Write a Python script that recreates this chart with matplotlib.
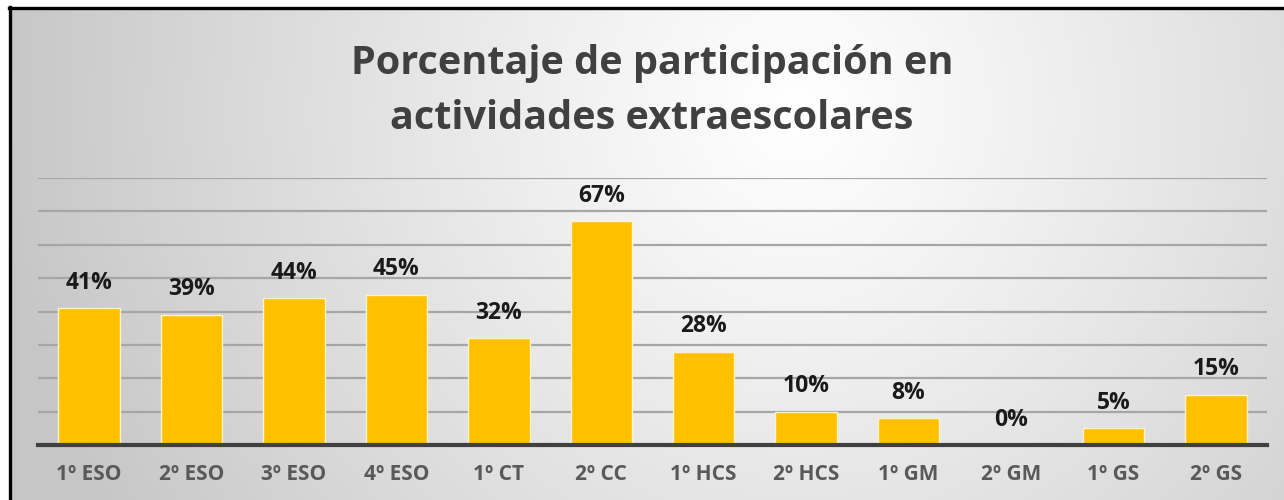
import numpy as np
import matplotlib
matplotlib.use("Agg")
import matplotlib.pyplot as plt
from matplotlib.lines import Line2D
from matplotlib.ticker import MultipleLocator

categories = ["1º ESO", "2º ESO", "3º ESO", "4º ESO", "1º CT", "2º CC",
              "1º HCS", "2º HCS", "1º GM", "2º GM", "1º GS", "2º GS"]
values = [0.41, 0.39, 0.44, 0.45, 0.32, 0.67, 0.28, 0.10, 0.08, 0.0, 0.05, 0.15]
title_lines = ["Porcentaje de participación en", "actividades extraescolares"]

FONT = "Open Sans"
W, H = 1284, 500
fig = plt.figure(figsize=(W / 100, H / 100), dpi=100)
fig.patch.set_facecolor("white")

# background radial gradient
bg = fig.add_axes([0, 0, 1, 1], zorder=0)
bg.set_axis_off()
yy, xx = np.mgrid[0:H, 0:W]
cx, cy = 0.62 * W, 0.22 * H
r = np.sqrt(((xx - cx) / (0.62 * W)) ** 2 + ((yy - cy) / (1.6 * H)) ** 2)
r = np.clip(r, 0, 1)
val = 1.0 - 0.22 * r ** 1.1
img = np.dstack([val, val, val])
img[:7, :, :] = 1.0
img[:, :9, :] = 1.0
bg.imshow(img, extent=[0, 1, 0, 1], aspect="auto", origin="upper")
bg.set_xlim(0, 1)
bg.set_ylim(0, 1)

fig.add_artist(Line2D([9 / W, 1], [1 - 7.5 / H, 1 - 7.5 / H], color="black", lw=2.4, transform=fig.transFigure, zorder=5))
fig.add_artist(Line2D([9.5 / W, 9.5 / W], [0, 1 - 7 / H], color="black", lw=2.4, transform=fig.transFigure, zorder=5))

ax = fig.add_axes([38 / W, (H - 445) / H, (1267 - 38) / W, (445 - 178) / H], zorder=2)
ax.patch.set_alpha(0)
x = np.arange(len(categories))
ax.bar(x, values, width=0.6, color="#FFC000", edgecolor="#FFF2CC", linewidth=1.0, zorder=3)
ax.set_xlim(-0.5, len(categories) - 0.5)
ax.set_ylim(0, 0.8)
ax.yaxis.set_major_locator(MultipleLocator(0.1))
ax.grid(axis="y", color="#A6A6A6", lw=1.6, zorder=1)
ax.set_axisbelow(True)
for s in ["top", "right", "left"]:
    ax.spines[s].set_visible(False)
ax.spines["bottom"].set_color("#404040")
ax.spines["bottom"].set_linewidth(3)
ax.spines["bottom"].set_zorder(4)
ax.set_yticklabels([])
ax.tick_params(axis="y", length=0)
ax.set_xticks(x)
ax.set_xticklabels(categories, fontfamily=FONT, fontweight="bold", fontsize=15, color="#595959")
ax.tick_params(axis="x", length=0, pad=14)

for xi, v in zip(x, values):
    ax.annotate(f"{round(v * 100)}%", (xi, v), xytext=(0, 14), textcoords="offset points",
                ha="center", va="baseline", fontfamily=FONT, fontweight="bold",
                fontsize=16.5, color="#1A1A1A", zorder=5)

for i, line in enumerate(title_lines):
    fig.text(652 / W, 1 - (74 + 55 * i) / H, line, ha="center", va="baseline", fontfamily=FONT,
             fontweight="bold", fontsize=28.5, color="#404040", zorder=5)

fig.savefig("out.png", dpi=100)
